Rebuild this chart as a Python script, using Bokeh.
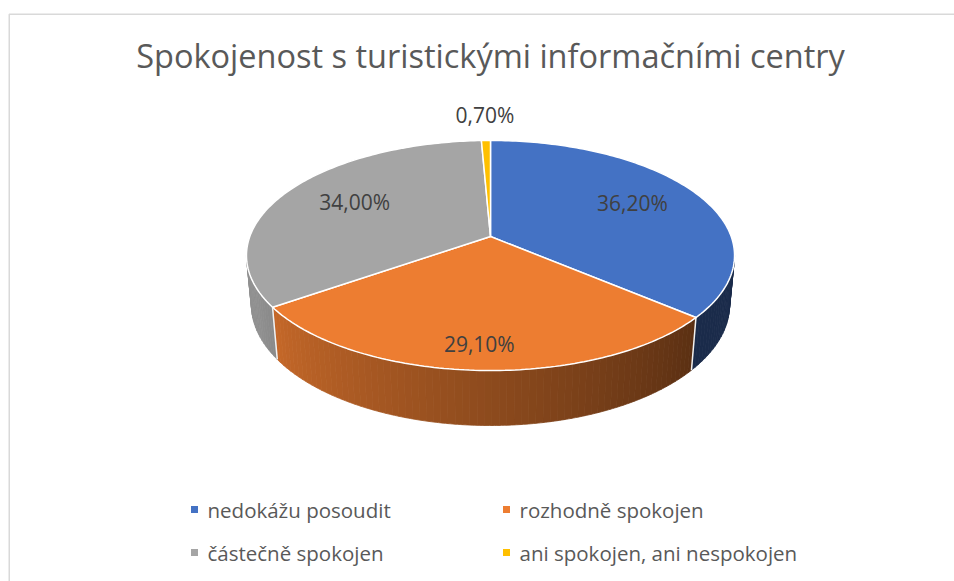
import numpy as np
from bokeh.plotting import figure
from bokeh.models import Range1d
from bokeh.core.properties import value
from bokeh.embed import file_html
from bokeh.resources import INLINE

# ---- data ----
title = "Spokojenost s turistickými informačními centry"
categories = ["nedokážu posoudit", "rozhodně spokojen", "částečně spokojen", "ani spokojen, ani nespokojen"]
values = [36.2, 29.1, 34.0, 0.7]
labels = ["36,20%", "29,10%", "34,00%", "0,70%"]
colors = ["#4472C4", "#ED7D31", "#A5A5A5", "#FFC000"]
label_radius = [0.68, 0.85, 0.66, 1.28]

# ---- geometry (3D perspective pie) ----
W, H = 954, 581
CX, CY = 490, 236          # projected pie centre
A, B, K = 240.7, 111.9, -0.165
DEPTH_V, DEPTH_M = 49.7, -0.02
FONT = value("Open Sans")


def proj(theta, r=1.0, bottom=False):
    t = np.radians(theta)
    X = r * np.sin(t)
    Y = -r * np.cos(t)
    den = 1 + K * Y
    v = B * Y
    if bottom:
        den = den - DEPTH_M
        v = v + DEPTH_V
    return CX + A * X / den, CY + v / den


def rgb_hex(c, f):
    c = c.lstrip("#")
    r, g, b = (int(c[i:i + 2], 16) for i in (0, 2, 4))
    return "#%02x%02x%02x" % tuple(int(max(0, min(255, round(x * f)))) for x in (r, g, b))


def shade(theta):
    f = 0.38 + (theta - 130.0) / 105.0 * 0.45
    return max(0.38, min(0.87, f))


total = sum(values)
bounds = [0.0]
for v in values:
    bounds.append(bounds[-1] + v / total * 360.0)

p = figure(width=W, height=H, x_range=Range1d(0, W), y_range=Range1d(H, 0),
           output_backend="svg", toolbar_location=None, min_border=0)
p.axis.visible = False
p.grid.visible = False
p.outline_line_color = None
p.background_fill_color = "white"

# chart frame
p.quad(left=[8.75], right=[W + 20], top=[13.75], bottom=[H + 20],
       fill_color=None, line_color="#d9d9d9", line_width=1.5)

# ---- sides ----
TR, TL = 99.5, 260.5
sx, sy, sc = [], [], []
for i in range(len(values)):
    a0, a1 = max(bounds[i], TR), min(bounds[i + 1], TL)
    if a1 <= a0:
        continue
    n = max(1, int(np.ceil((a1 - a0) / 1.5)))
    edges = np.linspace(a0, a1, n + 1)
    for e0, e1 in zip(edges[:-1], edges[1:]):
        ts = np.linspace(e0, e1, 4)
        tx, ty = proj(ts)
        bx, by = proj(ts[::-1], bottom=True)
        sx.append(list(tx) + list(bx))
        sy.append(list(ty) + list(by))
        sc.append(rgb_hex(colors[i], shade((e0 + e1) / 2)))
p.patches(sx, sy, fill_color=sc, line_color=sc, line_width=0.8)

# side seams at slice boundaries
for b in bounds[1:-1]:
    if TR < b < TL:
        x0, y0 = proj(b)
        x1, y1 = proj(b, bottom=True)
        p.line([x0, x1], [y0, y1], line_color="#f2f2f2", line_width=1.5)

# ---- top faces ----
px, py = [], []
for i in range(len(values)):
    ts = np.linspace(bounds[i], bounds[i + 1], max(3, int((bounds[i + 1] - bounds[i]) / 1.0)))
    ax, ay = proj(ts)
    px.append([CX] + list(ax))
    py.append([CY] + list(ay))
p.patches(px, py, fill_color=colors, line_color="white", line_width=1.5)

# ---- data labels ----
lx, ly = [], []
for i in range(len(values)):
    mid = (bounds[i] + bounds[i + 1]) / 2
    x, y = proj(mid, r=label_radius[i])
    lx.append(x)
    ly.append(y)
p.text(lx, ly, text=labels, text_font=FONT, text_font_size="21px", text_color="#404040",
       text_align="center", text_baseline="middle", y_offset=-3)

# ---- title ----
p.text([W / 2 + 13], [55], text=[title], text_font=FONT, text_font_size="32.5px",
       text_color="#595959", text_align="center", text_baseline="middle")

# ---- legend ----
leg_x0, leg_col, leg_y0, leg_row = 194, 312, 509, 43
gx = [leg_x0 + (i % 2) * leg_col for i in range(len(categories))]
gy = [leg_y0 + (i // 2) * leg_row for i in range(len(categories))]
p.scatter(gx, gy, marker="square", size=7, fill_color=colors, line_color=None)
p.text([x + 13 for x in gx], gy, text=categories, text_font=FONT,
       text_font_size="20.5px", text_color="#595959", text_align="left",
       text_baseline="middle")

open("out.html", "w").write(file_html(p, INLINE))
